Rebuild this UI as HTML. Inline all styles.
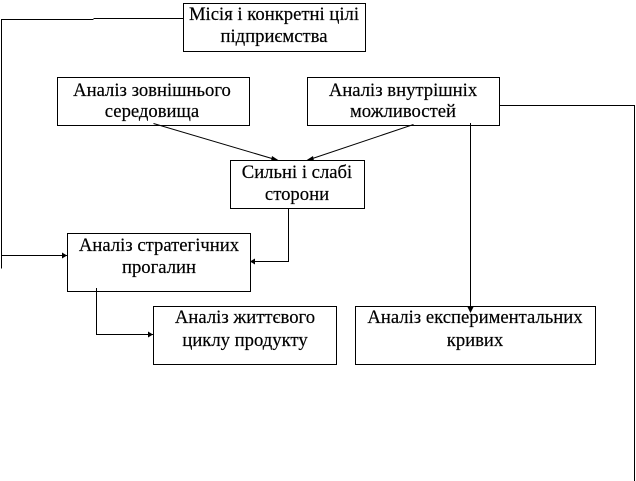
<!DOCTYPE html>
<html><head><meta charset="utf-8"><style>
html,body{margin:0;padding:0;background:#fff;width:636px;height:481px;overflow:hidden}
svg{display:block}
text{font-family:"Liberation Serif",serif;font-size:18.67px;fill:#000;stroke:#000;stroke-width:.2;text-anchor:middle}
rect,path.l{fill:none;stroke:#000;stroke-width:1;shape-rendering:crispEdges}
rect{fill:#fff}
</style></head><body>
<svg width="636" height="481" viewBox="0 0 636 481" xmlns="http://www.w3.org/2000/svg">
<rect x="0" y="0" width="636" height="481" style="stroke:none"/>
<path class="l" d="M183.500 18.500H93.500M93.500 19.500H1.500V268.500M1.500 255.500H67"/>
<path class="l" d="M288.500 208V261.500H250"/>
<path class="l" d="M96.500 288V334.500H153"/>
<path class="l" d="M499 105.500H634.500V481"/>
<rect x="183.500" y="3.500" width="182" height="48"/>
<rect x="57.500" y="77.500" width="192" height="48"/>
<rect x="307.500" y="77.500" width="192" height="48"/>
<rect x="230.500" y="160.500" width="134" height="48"/>
<rect x="67.500" y="233.500" width="183" height="58"/>
<rect x="153.500" y="306.500" width="183" height="58"/>
<rect x="355.500" y="306.500" width="240" height="58"/>
<path class="l" d="M96.500 288V292"/>
<path d="M153.500 123.500L277 160M413.500 124.500L308 160" fill="none" stroke="#000" stroke-width="1"/>
<path class="l" d="M470.500 123V312"/>
<path d="M279 160.500L272 156L271 161ZM306 160.500L313 156L314 161Z M67 255.500L62 252.500V258.500Z M250 261.500L255 258.500V264.500Z M153 334.500L148 331.500V337.500Z M470.500 313L467.500 307H473.500Z" fill="#000"/>
<text x="274" y="20">Місія і конкретні цілі</text>
<text x="274" y="42">підприємства</text>
<text x="152" y="96">Аналіз зовнішнього</text>
<text x="152" y="117">середовища</text>
<text x="403" y="96">Аналіз внутрішніх</text>
<text x="403" y="117">можливостей</text>
<text x="297" y="178">Сильні і слабі</text>
<text x="297" y="200">сторони</text>
<text x="159" y="251">Аналіз стратегічних</text>
<text x="159" y="273">прогалин</text>
<text x="245" y="323">Аналіз життєвого</text>
<text x="245" y="346">циклу продукту</text>
<text x="475" y="323">Аналіз експериментальних</text>
<text x="475" y="346">кривих</text>
</svg>
</body></html>
